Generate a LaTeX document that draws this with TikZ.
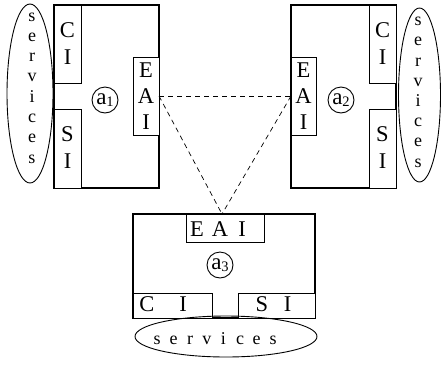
\documentclass[tikz,border=0pt]{standalone}
\usepackage{fontspec}
\setmainfont{Liberation Serif}
\usetikzlibrary{shapes.geometric}
\begin{document}
\begin{tikzpicture}[x=1pt,y=-1pt,
  mainbox/.style={draw,line width=1.1pt,inner sep=0pt,outer sep=0pt},
  subbox/.style={draw,line width=0.9pt,fill=white,inner sep=0pt,outer sep=0pt},
  big/.style={anchor=base,inner sep=0pt,font=\fontsize{22.5}{26}\selectfont},
  svc/.style={anchor=base,inner sep=0pt,font=\fontsize{18}{20}\selectfont},
  oval/.style={draw,ellipse,line width=0.9pt,inner sep=0pt},
  agent/.style={draw,circle,line width=0.9pt,minimum size=26pt,inner sep=0pt,font=\fontsize{23}{24}\selectfont},
  link/.style={draw,line width=0.7pt,dash pattern=on 5pt off 4pt}]
\useasboundingbox (0,0) rectangle (441,365);

% agent 1
\node[mainbox,minimum width=105pt,minimum height=183pt] (b1) at (106.5,96.5) {};
\node[subbox,minimum width=27pt,minimum height=78pt] (ci1) at (67.5,44) {};
\node[subbox,minimum width=27pt,minimum height=79pt] (si1) at (67.5,148.5) {};
\node[subbox,minimum width=26pt,minimum height=78pt] (e1) at (146,96) {};
\node[big] (ci1c) at (67.5,37) {C};
\node[big] (ci1i) at (67.5,64) {I};
\node[big] (si1s) at (67.5,141) {S};
\node[big] (si1i) at (67.5,168.5) {I};
\node[big] (e1e) at (146,77.5) {E};
\node[big] (e1a) at (146,103.5) {A};
\node[big] (e1i) at (146,129.5) {I};
\node[agent] (a1) at (105,100) {a\raisebox{-0.25ex}{\fontsize{14.5}{14.5}\selectfont 1}};
\node[oval,minimum width=46pt,minimum height=179pt] (sv1) at (30,93.5) {};
\foreach \l [count=\i] in {s,e,r,v,i,c,e,s}
  \node[svc] (sv1-\i) at (32,{21+20.3*(\i-1)}) {\l};

% agent 2
\node[mainbox,minimum width=105pt,minimum height=183pt] (b2) at (343.5,96.5) {};
\node[subbox,minimum width=27pt,minimum height=78pt] (ci2) at (382.5,44) {};
\node[subbox,minimum width=27pt,minimum height=79pt] (si2) at (382.5,148.5) {};
\node[subbox,minimum width=25pt,minimum height=78pt] (e2) at (303.5,96) {};
\node[big] (ci2c) at (382.5,37) {C};
\node[big] (ci2i) at (382.5,64) {I};
\node[big] (si2s) at (382.5,141) {S};
\node[big] (si2i) at (382.5,168.5) {I};
\node[big] (e2e) at (303.5,77.5) {E};
\node[big] (e2a) at (303.5,103.5) {A};
\node[big] (e2i) at (303.5,129.5) {I};
\node[agent] (a2) at (341,100) {a\raisebox{-0.25ex}{\fontsize{14.5}{14.5}\selectfont 2}};
\node[oval,minimum width=42pt,minimum height=174pt] (sv2) at (419.5,95) {};
\foreach \l [count=\i] in {s,e,r,v,i,c,e,s}
  \node[svc] (sv2-\i) at (418,{25.7+20.2*(\i-1)}) {\l};

% agent 3
\node[mainbox,minimum width=182pt,minimum height=104pt] (b3) at (224,266) {};
\node[subbox,minimum width=78pt,minimum height=28pt] (e3) at (225,228) {};
\node[subbox,minimum width=79pt,minimum height=25pt] (ci3) at (172.5,305.5) {};
\node[subbox,minimum width=77pt,minimum height=25pt] (si3) at (276.5,305.5) {};
\node[big] (e3e) at (197,236.5) {E};
\node[big] (e3a) at (220,236.5) {A};
\node[big] (e3i) at (242,236.5) {I};
\node[big] (ci3c) at (147,311) {C};
\node[big] (ci3i) at (183,311) {I};
\node[big] (si3s) at (262,311) {S};
\node[big] (si3i) at (287.5,311) {I};
\node[agent] (a3) at (220,265) {a\raisebox{-0.25ex}{\fontsize{14.5}{14.5}\selectfont 3}};
\node[oval,minimum width=182pt,minimum height=41pt] (sv3) at (226,336.5) {};
\foreach \l [count=\i] in {s,e,r,v,i,c,e,s}
  \node[svc] (sv3-\i) at ({157+16.6*(\i-1)},344.5) {\l};

% links
\coordinate (m3) at (222,214);
\draw[link] (e1.east) -- (e2.west);
\draw[link] (e1.east) -- (m3);
\draw[link] (e2.west) -- (m3);
\end{tikzpicture}
\end{document}
